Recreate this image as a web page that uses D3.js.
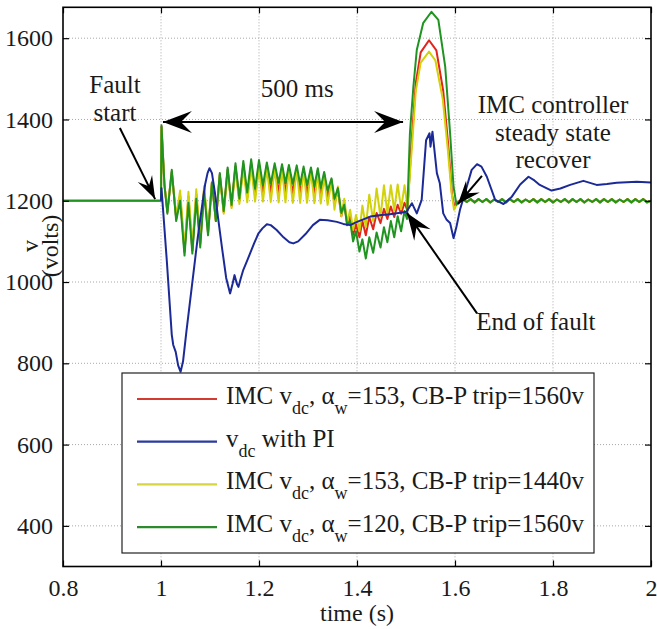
<!DOCTYPE html>
<html>
<head>
<meta charset="utf-8">
<script src="https://cdn.jsdelivr.net/npm/d3@7/dist/d3.min.js"></script>
<style>
  body { margin: 0; background: #fff; }
  svg text { font-family: "Liberation Serif", "Times New Roman", Times, serif; fill: #1a1a1a; }
</style>
</head>
<body>
<div id="chart"></div>
<script>
// axis ticks
const xTicks = [0.8, 1, 1.2, 1.4, 1.6, 1.8, 2];
const yTicks = [400, 600, 800, 1000, 1200, 1400, 1600];

// series: [time (s), volts]
const redPts = [
  [0.8,1200],[1.0,1200],[1.001,1382],[1.007,1240],[1.013,1172],[1.022,1272],[1.031,1156],[1.039,1212],
  [1.048,1074],[1.056,1210],[1.064,1078],[1.072,1216],[1.080,1094],[1.088,1230],[1.096,1120],[1.104,1246],
  [1.112,1150],[1.120,1265],[1.128,1172],[1.136,1277],[1.144,1186],[1.152,1285],[1.160,1200],[1.168,1290],
  [1.176,1208],[1.184,1293],[1.192,1214],[1.200,1291],[1.208,1218],[1.216,1287],[1.224,1220],[1.232,1285],
  [1.240,1220],[1.247,1284],[1.254,1219],[1.261,1282],[1.269,1218],[1.277,1281],[1.284,1217],[1.291,1279],
  [1.298,1216],[1.306,1277],[1.313,1215],[1.320,1275],[1.326,1212],[1.333,1266],[1.340,1208],[1.348,1252],
  [1.354,1192],[1.361,1228],[1.368,1162],[1.374,1196],[1.380,1140],[1.386,1162],[1.392,1116],[1.398,1142],
  [1.405,1110],[1.411,1150],[1.418,1115],[1.425,1160],[1.433,1130],[1.440,1170],[1.448,1145],[1.455,1180],
  [1.462,1155],[1.469,1186],[1.476,1160],[1.483,1190],[1.490,1168],[1.497,1195],[1.503,1175],[1.511,1340],
  [1.520,1490],[1.530,1565],[1.547,1595],[1.562,1570],[1.576,1470],[1.586,1340],[1.594,1215],[1.599,1185],
  [1.606,1198],[1.612,1200]
];
const yellowPts = [
  [0.8,1200],[1.0,1200],[1.001,1378],[1.007,1238],[1.013,1178],[1.022,1268],[1.031,1162],[1.039,1225],
  [1.048,1082],[1.056,1222],[1.064,1088],[1.072,1228],[1.080,1102],[1.088,1236],[1.096,1126],[1.104,1248],
  [1.112,1150],[1.120,1262],[1.128,1168],[1.136,1272],[1.144,1182],[1.152,1278],[1.160,1192],[1.168,1282],
  [1.176,1196],[1.184,1284],[1.192,1198],[1.200,1282],[1.208,1198],[1.216,1280],[1.224,1197],[1.232,1279],
  [1.240,1196],[1.247,1278],[1.254,1196],[1.261,1277],[1.269,1195],[1.277,1276],[1.284,1195],[1.291,1275],
  [1.298,1195],[1.306,1273],[1.313,1194],[1.320,1270],[1.326,1193],[1.333,1262],[1.340,1190],[1.348,1250],
  [1.354,1178],[1.361,1235],[1.368,1162],[1.374,1205],[1.380,1145],[1.386,1178],[1.392,1128],[1.398,1165],
  [1.405,1125],[1.411,1188],[1.418,1135],[1.425,1215],[1.433,1150],[1.440,1230],[1.448,1160],[1.455,1238],
  [1.462,1170],[1.469,1238],[1.476,1176],[1.483,1240],[1.490,1180],[1.497,1238],[1.503,1185],[1.512,1330],
  [1.520,1470],[1.530,1540],[1.547,1567],[1.560,1545],[1.575,1450],[1.585,1330],[1.593,1220],[1.598,1178],
  [1.605,1195],[1.612,1200]
];
const greenPts = [
  [0.8,1200],[1.0,1200],[1.001,1386],[1.007,1240],[1.013,1168],[1.022,1276],[1.031,1150],[1.039,1200],
  [1.048,1065],[1.056,1195],[1.064,1070],[1.072,1205],[1.080,1085],[1.088,1222],[1.096,1115],[1.104,1245],
  [1.112,1150],[1.120,1268],[1.128,1175],[1.136,1282],[1.144,1190],[1.152,1292],[1.160,1205],[1.168,1298],
  [1.176,1220],[1.184,1302],[1.192,1230],[1.200,1300],[1.208,1238],[1.216,1294],[1.224,1242],[1.232,1292],
  [1.240,1244],[1.247,1290],[1.254,1243],[1.261,1288],[1.269,1242],[1.277,1287],[1.284,1240],[1.291,1284],
  [1.298,1238],[1.306,1282],[1.313,1236],[1.320,1280],[1.326,1232],[1.333,1271],[1.340,1225],[1.348,1255],
  [1.354,1205],[1.361,1231],[1.368,1170],[1.374,1190],[1.380,1140],[1.386,1150],[1.392,1100],[1.398,1125],
  [1.405,1075],[1.411,1105],[1.418,1058],[1.425,1110],[1.433,1072],[1.440,1122],[1.448,1085],[1.455,1135],
  [1.462,1098],[1.469,1150],[1.476,1110],[1.483,1162],[1.490,1125],[1.497,1175],[1.502,1155],[1.508,1366],
  [1.515,1480],[1.522,1571],[1.535,1637],[1.552,1665],[1.566,1645],[1.580,1530],[1.590,1366],[1.597,1235],
  [1.603,1190],[1.610,1200]
];
// small post-fault ripple shared by the IMC runs
const rippleTail = [
  [1.616,1204],[1.624,1197],[1.632,1204],[1.640,1196],[1.648,1204],[1.656,1197],[1.664,1204],[1.672,1196],
  [1.680,1203],[1.688,1197],[1.696,1204],[1.704,1196],[1.712,1204],[1.720,1197],[1.728,1204],[1.736,1196],
  [1.744,1203],[1.752,1197],[1.760,1204],[1.768,1196],[1.776,1204],[1.784,1197],[1.792,1204],[1.800,1196],
  [1.808,1203],[1.816,1197],[1.824,1204],[1.832,1196],[1.840,1204],[1.848,1197],[1.856,1204],[1.864,1196],
  [1.872,1203],[1.880,1197],[1.888,1204],[1.896,1196],[1.904,1204],[1.912,1197],[1.920,1204],[1.928,1196],
  [1.936,1203],[1.944,1197],[1.952,1204],[1.960,1196],[1.968,1204],[1.976,1197],[1.984,1204],[1.992,1196],
  [2.000,1200]
];
const bluePts = [
  [1.0,1200],[1.001,1231],[1.012,1050],[1.022,870],[1.025,845],[1.030,828],[1.035,795],[1.040,779],
  [1.045,805],[1.052,880],[1.060,960],[1.068,1040],[1.075,1110],[1.083,1180],[1.090,1240],[1.095,1268],
  [1.099,1280],[1.104,1268],[1.110,1220],[1.117,1153],[1.125,1080],[1.133,1010],[1.141,972],[1.146,995],
  [1.150,1017],[1.155,995],[1.158,988],[1.163,1010],[1.168,1030],[1.175,1050],[1.182,1071],[1.190,1095],
  [1.199,1120],[1.207,1132],[1.216,1142],[1.224,1140],[1.236,1128],[1.250,1110],[1.262,1098],[1.270,1095],
  [1.280,1100],[1.295,1118],[1.310,1140],[1.324,1153],[1.340,1152],[1.359,1148],[1.372,1143],[1.386,1140],
  [1.400,1148],[1.427,1161],[1.450,1165],[1.467,1167],[1.485,1170],[1.501,1173],[1.512,1194],[1.522,1169],
  [1.532,1202],[1.541,1349],[1.548,1366],[1.550,1333],[1.554,1370],[1.563,1268],[1.569,1243],[1.576,1169],
  [1.583,1153],[1.590,1145],[1.597,1108],[1.603,1136],[1.610,1177],[1.620,1218],[1.634,1276],[1.645,1290],
  [1.654,1284],[1.665,1259],[1.682,1202],[1.699,1192],[1.716,1210],[1.733,1240],[1.750,1259],[1.762,1250],
  [1.773,1239],[1.797,1225],[1.815,1230],[1.835,1239],[1.862,1249],[1.889,1239],[1.910,1241],[1.930,1244],
  [1.971,1247],[2.0,1245]
];

// legend labels: [text, isSubscript]
const legendLabels = [
  [['IMC v', 0], ['dc', 1], [', \u03b1', 0], ['w', 1], ['=153, CB-P trip=1560v', 0]],
  [['v', 0], ['dc', 1], [' with PI', 0]],
  [['IMC v', 0], ['dc', 1], [', \u03b1', 0], ['w', 1], ['=153, CB-P trip=1440v', 0]],
  [['IMC v', 0], ['dc', 1], [', \u03b1', 0], ['w', 1], ['=120, CB-P trip=1560v', 0]]
];
const legendColors = ['#d23a32', '#2b3a9c', '#d6d640', '#2f8a2f'];

const width = 657, height = 629;
const mLeft = 63, mRight = 651, mTop = 7.3, mBottom = 566.5;

const x = d3.scaleLinear().domain([0.8, 2]).range([mLeft, mRight]);
const y = d3.scaleLinear().domain([300, 1676]).range([mBottom, mTop]);

const svg = d3.select('#chart').append('svg')
  .attr('width', width)
  .attr('height', height);

svg.append('defs').append('clipPath').attr('id', 'plot-clip')
  .append('rect')
  .attr('x', mLeft).attr('y', mTop)
  .attr('width', mRight - mLeft).attr('height', mBottom - mTop);

// grid
const grid = svg.append('g')
  .attr('stroke', '#a8a8a8')
  .attr('stroke-width', 1)
  .attr('stroke-dasharray', '1,2');
grid.selectAll('.gx').data(xTicks.slice(1, -1)).enter().append('line')
  .attr('x1', d => x(d)).attr('x2', d => x(d))
  .attr('y1', mTop).attr('y2', mBottom);
grid.selectAll('.gy').data(yTicks).enter().append('line')
  .attr('x1', mLeft).attr('x2', mRight)
  .attr('y1', d => y(d)).attr('y2', d => y(d));

// curves
const line = d3.line().x(d => x(d[0])).y(d => y(d[1]));
const plot = svg.append('g').attr('clip-path', 'url(#plot-clip)');
const series = [
  { pts: redPts.concat(rippleTail), color: '#e0251c' },
  { pts: yellowPts.concat(rippleTail), color: '#d2d20a' },
  { pts: greenPts.concat(rippleTail), color: '#1f9420' },
  { pts: bluePts, color: '#1c2a98' }
];
plot.selectAll('path.series').data(series).enter().append('path')
  .attr('class', 'series')
  .attr('d', d => line(d.pts))
  .attr('fill', 'none')
  .attr('stroke', d => d.color)
  .attr('stroke-width', 2)
  .attr('stroke-linejoin', 'round');

// axes (ticks inward)
function styleAxis(g) {
  g.select('.domain').remove();
  g.selectAll('.tick line').attr('stroke', '#000').attr('stroke-width', 1.2);
  g.selectAll('text').attr('font-size', 24).attr('fill', '#1a1a1a');
}
svg.append('g').attr('transform', `translate(0,${mBottom})`)
  .call(d3.axisBottom(x).tickValues(xTicks).tickSize(-6).tickPadding(12).tickFormat(d3.format('')))
  .call(styleAxis);
svg.append('g').attr('transform', `translate(0,${mTop})`)
  .call(d3.axisTop(x).tickValues(xTicks).tickSize(-6).tickFormat(''))
  .call(styleAxis);
svg.append('g').attr('transform', `translate(${mLeft},0)`)
  .call(d3.axisLeft(y).tickValues(yTicks).tickSize(-6).tickPadding(10).tickFormat(d3.format('')))
  .call(styleAxis);
svg.append('g').attr('transform', `translate(${mRight},0)`)
  .call(d3.axisRight(y).tickValues(yTicks).tickSize(-6).tickFormat(''))
  .call(styleAxis);

svg.append('rect')
  .attr('x', mLeft).attr('y', mTop)
  .attr('width', mRight - mLeft).attr('height', mBottom - mTop)
  .attr('fill', 'none').attr('stroke', '#000').attr('stroke-width', 1.6);

// axis labels
svg.append('text')
  .attr('x', (mLeft + mRight) / 2).attr('y', 621)
  .attr('text-anchor', 'middle').attr('font-size', 24)
  .text('time (s)');
svg.append('text')
  .attr('transform', 'translate(38,246) rotate(-90)')
  .attr('text-anchor', 'middle').attr('font-size', 24)
  .text('v');
svg.append('text')
  .attr('transform', 'translate(58,246) rotate(-90)')
  .attr('text-anchor', 'middle').attr('font-size', 24)
  .text('(volts)');

// annotations
const ann = svg.append('g');
function arrowHead(tx, ty, ang, L, W) {
  ann.append('path')
    .attr('d', `M0,0L${-L},${-W / 2}L${-L * 0.62},0L${-L},${W / 2}Z`)
    .attr('transform', `translate(${tx},${ty}) rotate(${ang * 180 / Math.PI})`)
    .attr('fill', '#000');
}
function arrow(t1, v1, t2, v2, L, W, both) {
  const x1 = x(t1), y1 = y(v1), x2 = x(t2), y2 = y(v2);
  const ang = Math.atan2(y2 - y1, x2 - x1);
  ann.append('line')
    .attr('x1', x1).attr('y1', y1).attr('x2', x2).attr('y2', y2)
    .attr('stroke', '#000').attr('stroke-width', 2);
  arrowHead(x2, y2, ang, L, W);
  if (both) arrowHead(x1, y1, ang + Math.PI, L, W);
}
arrow(1.004, 1394, 1.494, 1394, 29, 22, true);
arrow(0.916, 1379, 0.988, 1204, 23, 16, false);
arrow(1.655, 1261, 1.606, 1192, 23, 18, false);
arrow(1.645, 923, 1.502, 1170, 27, 20, false);

function label(t, v, str) {
  ann.append('text')
    .attr('x', x(t)).attr('y', y(v))
    .attr('text-anchor', 'middle').attr('font-size', 25)
    .text(str);
}
label(0.906, 1465, 'Fault');
label(0.906, 1396, 'start');
label(1.278, 1455, '500 ms');
label(1.80, 1416, 'IMC controller');
label(1.80, 1347, 'steady state');
label(1.80, 1281, 'recover');
label(1.765, 882, 'End of fault');

// legend
const lg = svg.append('g');
lg.append('rect')
  .attr('x', 122).attr('y', 373).attr('width', 472).attr('height', 180)
  .attr('fill', '#fff').attr('stroke', '#222').attr('stroke-width', 1.2);
legendLabels.forEach((parts, i) => {
  const ry = 399 + i * 42.7;
  lg.append('line')
    .attr('x1', 137).attr('x2', 217).attr('y1', ry).attr('y2', ry)
    .attr('stroke', legendColors[i]).attr('stroke-width', 2.2);
  const t = lg.append('text').attr('x', 226).attr('y', ry + 5).attr('font-size', 25);
  let sub = 0;
  parts.forEach(p => {
    const s = t.append('tspan').text(p[0]);
    if (p[1] && !sub) { s.attr('font-size', 18).attr('dy', 10); sub = 1; }
    else if (!p[1] && sub) { s.attr('dy', -10); sub = 0; }
  });
});
</script>
</body>
</html>
